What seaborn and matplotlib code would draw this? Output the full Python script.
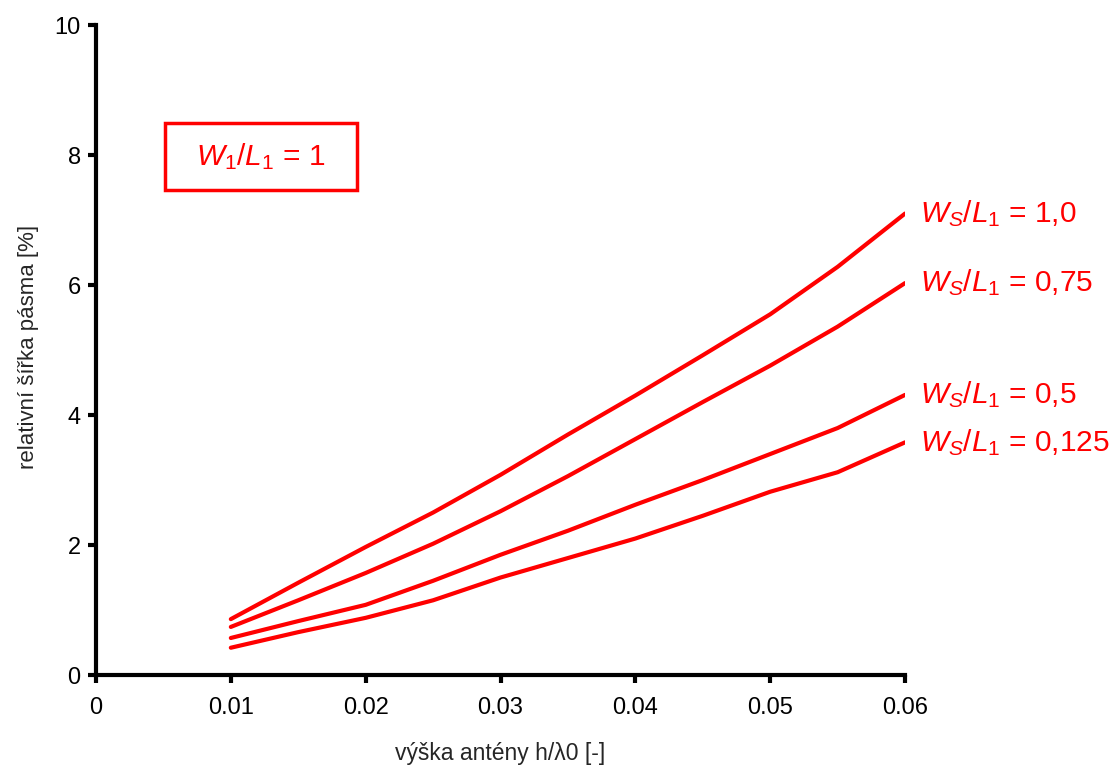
import pandas as pd
import seaborn as sns
import matplotlib.pyplot as plt
from matplotlib.patches import Rectangle

# hodnoty
vyska = [0.01, 0.015, 0.02, 0.025, 0.03, 0.035, 0.04, 0.045, 0.05, 0.055, 0.06]
ws_10 = [0.86, 1.42, 1.97, 2.50, 3.08, 3.70, 4.30, 4.92, 5.55, 6.28, 7.10]
ws_075 = [0.74, 1.15, 1.57, 2.02, 2.52, 3.06, 3.63, 4.20, 4.76, 5.36, 6.03]
ws_05 = [0.57, 0.83, 1.08, 1.45, 1.85, 2.22, 2.62, 3.00, 3.40, 3.80, 4.31]
ws_0125 = [0.42, 0.66, 0.88, 1.15, 1.50, 1.80, 2.10, 2.45, 2.82, 3.12, 3.58]
popisky = ['1,0', '0,75', '0,5', '0,125']
x_ticks = [0, 0.01, 0.02, 0.03, 0.04, 0.05, 0.06]
x_ticklabels = ['0', '0.01', '0.02', '0.03', '0.04', '0.05', '0.06']
y_ticks = [0, 2, 4, 6, 8, 10]

sns.set_style('ticks')
plt.rcParams['font.family'] = ['Liberation Sans', 'DejaVu Sans']
plt.rcParams['mathtext.fontset'] = 'custom'
plt.rcParams['mathtext.it'] = 'Liberation Sans:italic'
plt.rcParams['mathtext.rm'] = 'Liberation Sans'

rady = [ws_10, ws_075, ws_05, ws_0125]
df = pd.concat([pd.DataFrame({'h': vyska, 'bw': r, 'ws': p}) for r, p in zip(rady, popisky)])

fig = plt.figure(figsize=(11.16, 7.65), dpi=100)
ax = fig.add_axes([0.086, 0.1176, 0.725, 0.8497])

sns.lineplot(data=df, x='h', y='bw', hue='ws', palette=['#ff0000'] * 4,
             linewidth=3, legend=False, ax=ax)

for r, p in zip(rady, popisky):
    ax.annotate(r'$\mathit{W_{S}/L_{1}}$ = ' + p, xy=(vyska[-1], r[-1]),
                xytext=(11, 0), textcoords='offset points', va='center',
                color='#ff0000', fontsize=21.5, annotation_clip=False)

# rámeček s popisem
ax.add_patch(Rectangle((0.0853, 0.746), 0.237, 0.103, transform=ax.transAxes,
                       fill=False, ec='#ff0000', lw=2.5))
ax.text(0.0853 + 0.237 / 2, 0.746 + 0.103 / 2, r'$\mathit{W_{1}/L_{1}}$ = 1',
        transform=ax.transAxes, color='#ff0000', fontsize=21.5,
        ha='center', va='center')

ax.set_xlim(0, 0.06)
ax.set_ylim(0, 10)
ax.set_xticks(x_ticks)
ax.set_xticklabels(x_ticklabels)
ax.set_yticks(y_ticks)
ax.tick_params(direction='out', length=6, width=3, labelsize=17, colors='black')
ax.tick_params(axis='x', pad=10)
ax.tick_params(axis='y', pad=5)
for s in ['left', 'bottom']:
    ax.spines[s].set_linewidth(3)
    ax.spines[s].set_color('black')
sns.despine(ax=ax)

ax.set_xlabel('výška antény h/λ0 [-]', fontsize=16.5)
ax.set_ylabel('relativní šířka pásma [%]', fontsize=16)
ax.xaxis.set_label_coords(0.5, -0.103)
ax.yaxis.set_label_coords(-0.07, 0.505)

fig.savefig('out.png', dpi=100)
